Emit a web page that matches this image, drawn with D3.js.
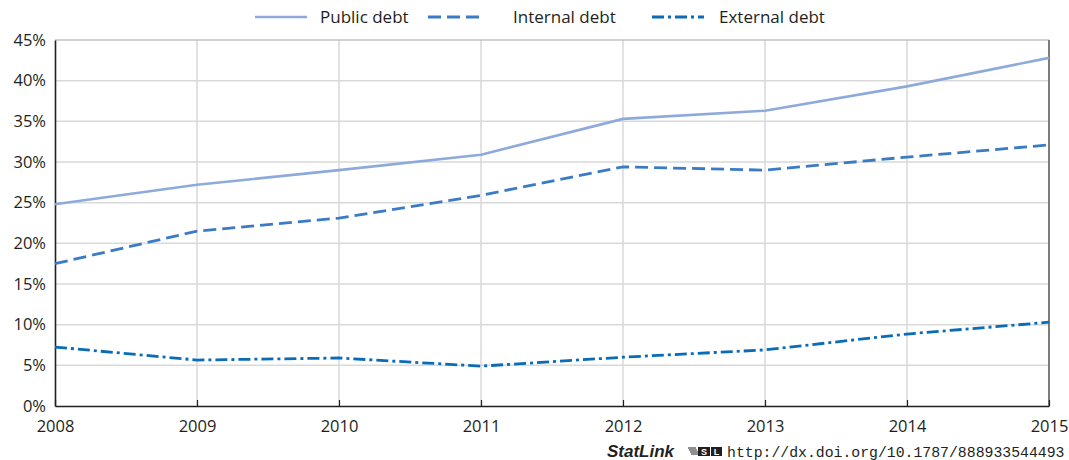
<!DOCTYPE html>
<html>
<head>
<meta charset="utf-8">
<script src="https://cdn.jsdelivr.net/npm/d3@7"></script>
<style>
  html, body { margin: 0; padding: 0; background: #fff; }
  svg { display: block; font-family: "Open Sans", "Noto Sans", sans-serif; }
</style>
</head>
<body>
<svg id="chart" width="1069" height="460"></svg>
<script>
// Debt as a share of GDP, 2008-2015
const years = [2008, 2009, 2010, 2011, 2012, 2013, 2014, 2015];
const publicDebt   = [24.8, 27.2, 29.0, 30.9, 35.3, 36.3, 39.3, 42.8];
const internalDebt = [17.5, 21.5, 23.1, 25.9, 29.4, 29.0, 30.6, 32.1];
const externalDebt = [7.25, 5.65, 5.9, 4.9, 6.0, 6.9, 8.85, 10.3];
const yTicks = [0, 5, 10, 15, 20, 25, 30, 35, 40, 45];
const seriesNames = ["Public debt", "Internal debt", "External debt"];

const series = [
  { name: seriesNames[0], values: publicDebt,   color: "#8eaadb", dash: null,       width: 2.6 },
  { name: seriesNames[1], values: internalDebt, color: "#3b7bc6", dash: "13,6",     width: 2.8 },
  { name: seriesNames[2], values: externalDebt, color: "#0a6bb6", dash: "12,4,3,4", width: 2.8 }
];

const svg = d3.select("#chart");
const m = { left: 55, right: 1049, top: 40, bottom: 406 };
const labelFont = "'Open Sans', 'Noto Sans', sans-serif";

const x = d3.scaleLinear().domain([2008, 2015]).range([m.left, m.right]);
const y = d3.scaleLinear().domain([0, 45]).range([m.bottom, m.top]);

// gridlines
svg.append("g").selectAll("line").data(yTicks.filter(d => d > 0 && d < 45)).join("line")
  .attr("x1", m.left).attr("x2", m.right)
  .attr("y1", d => y(d)).attr("y2", d => y(d))
  .attr("stroke", "#d9d9d9").attr("stroke-width", 1.5);
svg.append("g").selectAll("line").data(years.slice(1, -1)).join("line")
  .attr("x1", d => x(d)).attr("x2", d => x(d))
  .attr("y1", m.top).attr("y2", m.bottom)
  .attr("stroke", "#d9d9d9").attr("stroke-width", 1.5);

// frame top/right
svg.append("line").attr("x1", m.left).attr("x2", m.right).attr("y1", m.top).attr("y2", m.top)
  .attr("stroke", "#a6a6a6").attr("stroke-width", 1.2);
svg.append("line").attr("x1", m.right).attr("x2", m.right).attr("y1", m.top).attr("y2", m.bottom)
  .attr("stroke", "#6e6e6e").attr("stroke-width", 1.8);

// y axis
const yAxis = svg.append("g").attr("transform", `translate(${m.left},0)`)
  .call(d3.axisLeft(y).tickValues(yTicks).tickFormat(d => d + "%").tickSize(0).tickPadding(9));
yAxis.select(".domain").attr("stroke", "#231f20").attr("stroke-width", 1.6);
yAxis.selectAll("text").attr("font-size", 16.5).attr("fill", "#231f20").attr("font-family", labelFont);

// x axis (ticks point inward)
const xAxis = svg.append("g").attr("transform", `translate(0,${m.bottom})`)
  .call(d3.axisBottom(x).tickValues(years).tickFormat(d3.format("d")).tickSizeInner(-6).tickSizeOuter(0).tickPadding(14));
xAxis.select(".domain").attr("stroke", "#231f20").attr("stroke-width", 1.6);
xAxis.selectAll(".tick line").attr("stroke", "#231f20").attr("stroke-width", 1.2);
xAxis.selectAll("text").attr("font-size", 16.5).attr("fill", "#231f20").attr("font-family", labelFont);

// series lines
const line = d3.line().x((d, i) => x(years[i])).y(d => y(d));
svg.append("g").selectAll("path").data(series).join("path")
  .attr("d", s => line(s.values))
  .attr("fill", "none")
  .attr("stroke", s => s.color)
  .attr("stroke-width", s => s.width)
  .attr("stroke-dasharray", s => s.dash);

// legend
const legendPos = [{ lx: 255, tx: 320 }, { lx: 428, tx: 513 }, { lx: 652, tx: 719 }];
const lg = svg.append("g");
series.forEach((s, i) => {
  const p = legendPos[i];
  lg.append("line").attr("x1", p.lx).attr("x2", p.lx + 52).attr("y1", 17).attr("y2", 17)
    .attr("stroke", s.color).attr("stroke-width", s.width).attr("stroke-dasharray", s.dash);
  lg.append("text").attr("x", p.tx).attr("y", 23).text(s.name)
    .attr("font-size", 17).attr("fill", "#231f20").attr("font-family", labelFont);
});

// StatLink footer
const foot = svg.append("g");
foot.append("text").attr("x", 607).attr("y", 457).text("StatLink")
  .attr("font-size", 17).attr("font-style", "italic").attr("font-weight", "bold").attr("fill", "#231f20")
  .attr("font-family", "'Liberation Sans', Arial, sans-serif");
const icon = foot.append("g").attr("transform", "translate(687,446)");
icon.selectAll("line").data([0, 1, 2, 3]).join("line")
  .attr("x1", d => 1 + d).attr("x2", d => 9 + d).attr("y1", d => 2 + d * 2).attr("y2", d => 2 + d * 2)
  .attr("stroke", "#231f20").attr("stroke-width", 1);
icon.append("rect").attr("x", 11).attr("y", 1).attr("width", 12).attr("height", 9).attr("fill", "#231f20");
icon.append("text").attr("x", 17).attr("y", 9).attr("text-anchor", "middle").text("S")
  .attr("font-size", 9).attr("font-weight", "bold").attr("fill", "#fff").attr("font-family", "'Liberation Sans', sans-serif");
icon.append("rect").attr("x", 24).attr("y", 1).attr("width", 11).attr("height", 9).attr("fill", "#231f20");
icon.append("text").attr("x", 29.5).attr("y", 9).attr("text-anchor", "middle").text("L")
  .attr("font-size", 9).attr("font-weight", "bold").attr("fill", "#fff").attr("font-family", "'Liberation Sans', sans-serif");
foot.append("text").attr("x", 727).attr("y", 457).text("http://dx.doi.org/10.1787/888933544493")
  .attr("font-size", 14.8).attr("fill", "#231f20")
  .attr("font-family", "'Liberation Mono', 'DejaVu Sans Mono', monospace");
</script>
</body>
</html>
